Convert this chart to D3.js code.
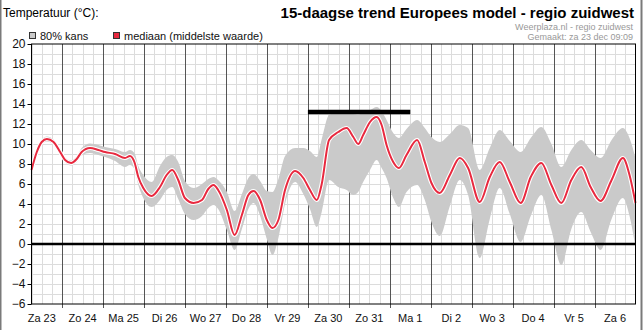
<!DOCTYPE html>
<html><head><meta charset="utf-8">
<script src="https://cdn.jsdelivr.net/npm/d3@7"></script>
<style>
html,body{margin:0;padding:0;background:#fff;}
svg{display:block;font-family:"Liberation Sans",Arial,sans-serif;}
</style></head>
<body>
<script>
// hours since za 23 dec 00:00
const hours = [6,9.1,12,15,18.9,22.8,25.7,29.2,32.5,35.4,40.3,45.2,49.1,55,60.8,63.7,66.3,68.6,71.5,76.4,81.3,85.2,88.5,92,95.9,101,105.9,109.6,112.7,115.4,120.5,125,129.3,133.1,136.1,140,143.9,147.2,150.7,154.6,160.5,165.3,169.2,173.2,176.1,180.4,185.8,190.7,194.6,197.5,200.4,204.4,208.3,211.2,214.1,218,221.3,225.8,232,236.5,240.4,245.3,251.2,257,261.9,268.7,274.6,280.4,286.3,292.7,298.6,304.8,310.7,316.5,322.4,328.2,333.7,339.5,346,352.6,356.5,360];
const median = [7.4,9.2,10.2,10.5,10.2,9.2,8.4,8.1,8.5,9.2,9.6,9.4,9.2,9.0,8.6,8.8,8.2,6.7,5.6,4.8,5.7,6.9,7.4,6.4,4.6,4.1,4.4,5.5,5.9,5.4,3.4,0.9,2.9,4.9,5.3,4.4,2.4,1.6,2.4,5.4,7.3,6.6,5.4,4.4,6.0,10.4,11.2,11.6,10.7,10.0,10.9,12.2,12.7,11.9,9.9,8.2,7.6,8.9,10.4,8.2,6.1,5.1,6.9,8.6,7.6,4.2,6.7,8.2,6.2,4.1,6.7,8.1,5.9,4.1,6.4,7.7,5.7,4.3,6.4,8.6,6.9,4.1];
const low80 = [7.1,8.9,9.95,10.25,9.95,8.95,8.15,7.85,8.2,8.85,9.1,8.9,8.7,8.3,7.7,7.9,7.5,5.9,4.6,3.7,4.4,5.4,5.7,4.5,3.0,2.4,2.8,3.6,3.9,3.5,1.4,-0.6,1.5,3.5,4.1,2.8,0.5,-1.1,0.6,4.0,6.2,5.0,3.5,1.7,3.2,6.4,5.7,5.4,4.9,5.2,6.2,7.4,8.4,7.6,6.6,4.6,3.7,5.2,5.9,4.4,2.2,0.8,3.8,6.4,4.9,-1.4,2.5,5.6,3.0,0.2,2.8,4.9,1.4,-2.1,1.5,3.2,1.2,-0.6,2.5,4.6,2.8,-0.3];
const high80 = [7.7,9.5,10.45,10.75,10.45,9.45,8.65,8.35,8.8,9.6,10.05,9.9,9.7,9.5,9.2,9.4,9.1,7.8,6.9,6.2,7.8,8.7,8.9,8.2,6.3,5.6,6.0,6.5,6.7,6.4,5.2,3.3,5.0,6.6,7.0,6.3,5.3,5.2,6.5,8.8,9.6,9.6,9.3,8.7,10.5,12.9,13.1,13.1,13.0,12.9,13.2,13.4,13.7,13.3,12.4,11.1,10.6,11.5,12.4,11.6,10.7,10.2,11.0,11.9,11.6,7.4,9.6,11.4,10.3,9.2,10.6,11.7,10.0,7.7,9.4,10.4,9.4,8.6,10.4,11.6,10.6,8.6];
const dayLabels = ["Za 23","Zo 24","Ma 25","Di 26","Wo 27","Do 28","Vr 29","Za 30","Zo 31","Ma 1","Di 2","Wo 3","Do 4","Vr 5","Za 6"];
const yTicks = [20,18,16,14,12,10,8,6,4,2,0,-2,-4,-6];
const barStart = 168, barEnd = 228, barValue = 13.2;
const titleText = "15-daagse trend Europees model - regio zuidwest";
const sub1 = "Weerplaza.nl - regio zuidwest";
const sub2 = "Gemaakt: za 23 dec 09:09";

const W = 643, H = 330;
const svg = d3.select("body").append("svg").attr("width", W).attr("height", H);

const x = d3.scaleLinear().domain([6, 360]).range([31.5, 635.5]);
const y = d3.scaleLinear().domain([-6, 20]).range([304, 44]);

// outer frame sides
svg.append("line").attr("x1",0.5).attr("x2",0.5).attr("y1",0).attr("y2",H).attr("stroke","#7a7a7a").attr("stroke-width",2);
svg.append("line").attr("x1",641.5).attr("x2",641.5).attr("y1",0).attr("y2",H).attr("stroke","#7a7a7a").attr("stroke-width",2);

// grid
const g = svg.append("g");
const minorH = d3.range(6, 361, 6);
g.selectAll(".vmin").data(minorH.filter(h => h % 24 !== 0)).join("line")
  .attr("x1", d => Math.round(x(d)) + 0.5).attr("x2", d => Math.round(x(d)) + 0.5)
  .attr("y1", y(20)).attr("y2", y(-6)).attr("stroke", "#dcdcdc");
g.selectAll(".hmin").data(d3.range(-5, 20, 1)).join("line")
  .attr("x1", x(6)).attr("x2", x(360))
  .attr("y1", d => y(d) + 0.5).attr("y2", d => y(d) + 0.5).attr("stroke", "#dcdcdc");

// band
const area = d3.area().x((d,i) => x(hours[i])).y0((d,i) => y(low80[i])).y1((d,i) => y(high80[i])).curve(d3.curveMonotoneX);
svg.append("path").attr("d", area(hours)).attr("fill", "#cacaca");

// major day lines
g.selectAll(".vmaj").data(minorH.filter(h => h % 24 === 0 && h < 360)).join("line")
  .attr("x1", d => Math.round(x(d)) + 0.5).attr("x2", d => Math.round(x(d)) + 0.5)
  .attr("y1", y(20)).attr("y2", y(-6) + 4).attr("stroke", "#555");

// zero line
svg.append("line").attr("x1", x(6)).attr("x2", x(360)).attr("y1", y(0)).attr("y2", y(0))
  .attr("stroke", "#000").attr("stroke-width", 2.5);

// median line with white halo
const line = d3.line().x((d,i) => x(hours[i])).y((d,i) => y(median[i])).curve(d3.curveMonotoneX);
svg.append("path").attr("d", line(hours)).attr("fill","none").attr("stroke","#fff").attr("stroke-width",4.2).attr("stroke-linejoin","round");
svg.append("path").attr("d", line(hours)).attr("fill","none").attr("stroke","#e8293f").attr("stroke-width",2).attr("stroke-linejoin","round");

// black bar
svg.append("line").attr("x1", x(barStart)).attr("x2", x(barEnd)).attr("y1", y(barValue)).attr("y2", y(barValue))
  .attr("stroke", "#000").attr("stroke-width", 4.5);

// plot frame
svg.append("rect").attr("x", x(6)).attr("y", y(20)).attr("width", x(360) - x(6)).attr("height", y(-6) - y(20))
  .attr("fill", "none").attr("stroke", "#000").attr("stroke-width", 1);

// y axis
const yAxis = d3.axisLeft(y).tickValues(yTicks).tickSize(4).tickPadding(2).tickFormat(d3.format("d"));
const ya = svg.append("g").attr("transform", `translate(${x(6)},0)`).call(yAxis);
ya.select(".domain").remove();
ya.selectAll("text").attr("font-size", 12).attr("fill", "#111").attr("font-family", '"Liberation Sans",Arial,sans-serif');
ya.selectAll("line").attr("stroke", "#000");

// x day labels
svg.selectAll(".xl").data(dayLabels).join("text")
  .attr("x", (d,i) => x(i * 24 + 12)).attr("y", 322)
  .attr("text-anchor", "middle").attr("font-size", 11).attr("fill", "#111")
  .text(d => d);

// texts
svg.append("text").attr("x", 3).attr("y", 17).attr("font-size", 12).attr("fill", "#000").text("Temperatuur (°C):");
svg.append("text").attr("x", 634).attr("y", 18).attr("text-anchor", "end").attr("font-size", 15).attr("font-weight", "bold").attr("fill", "#000").text(titleText);
svg.append("text").attr("x", 633).attr("y", 29.5).attr("text-anchor", "end").attr("font-size", 9).attr("fill", "#999").text(sub1);
svg.append("text").attr("x", 633).attr("y", 40).attr("text-anchor", "end").attr("font-size", 9).attr("fill", "#999").text(sub2);

// legend
svg.append("rect").attr("x", 29.5).attr("y", 32.5).attr("width", 6).attr("height", 6).attr("fill", "#cacaca").attr("stroke", "#333");
svg.append("text").attr("x", 40).attr("y", 40).attr("font-size", 11).attr("fill", "#111").text("80% kans");
svg.append("rect").attr("x", 113.5).attr("y", 32.5).attr("width", 6).attr("height", 6).attr("fill", "#e8293f").attr("stroke", "#333");
svg.append("text").attr("x", 124).attr("y", 40).attr("font-size", 11).attr("fill", "#111").text("mediaan (middelste waarde)");
</script>
</body></html>
